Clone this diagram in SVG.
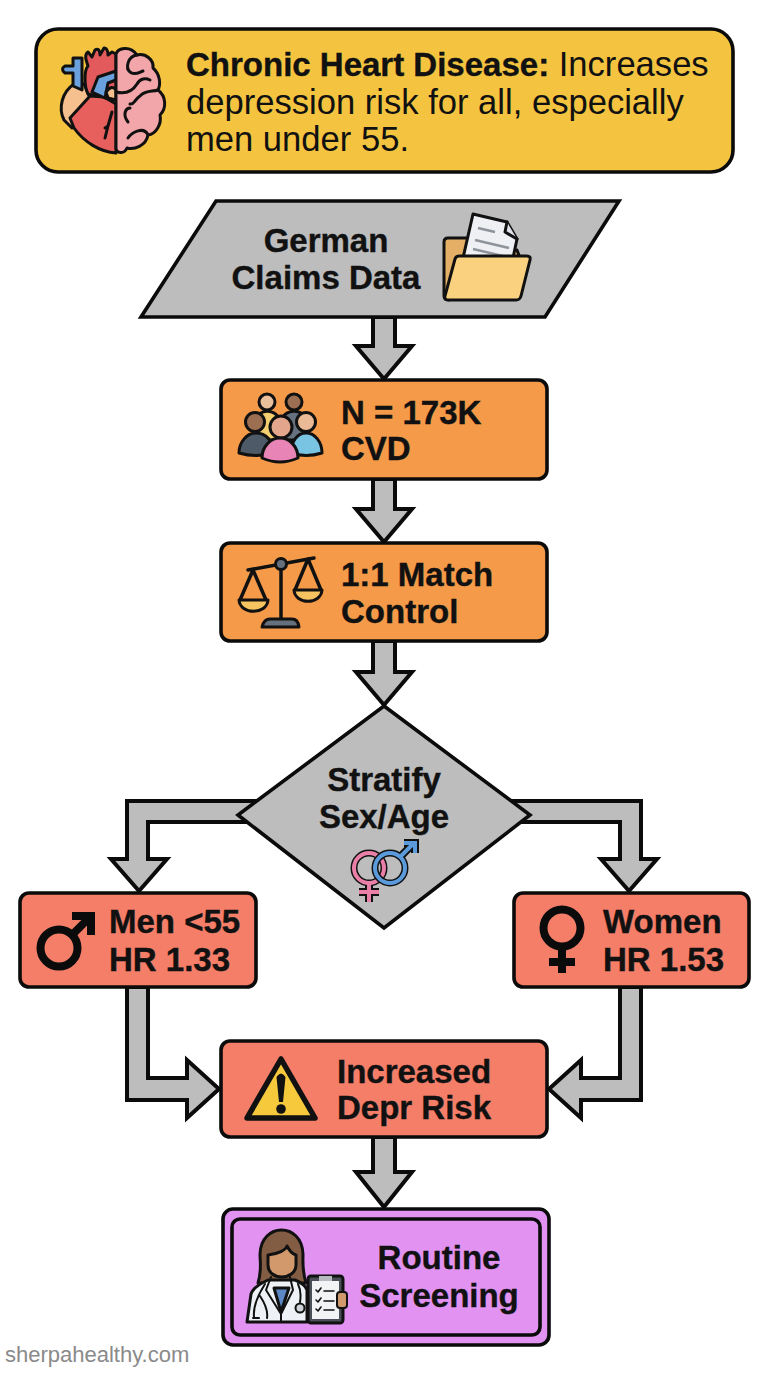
<svg xmlns="http://www.w3.org/2000/svg" width="768" height="1376" viewBox="0 0 768 1376">
<style>
.t{font-family:"Liberation Sans",Arial,sans-serif;font-size:33px;fill:#111;font-weight:700;stroke:#111;stroke-width:.4px}
.n{font-weight:400;font-size:34.6px;stroke:none}
.box{stroke:#0b0b0b;stroke-width:3.6}
.arr{fill:#bdbdbd;stroke:#0b0b0b;stroke-width:4;stroke-linejoin:miter}
.i{stroke:#111;stroke-width:3;stroke-linejoin:round;stroke-linecap:round}
.l{fill:none;stroke:#111;stroke-width:3;stroke-linejoin:round;stroke-linecap:round}
</style>
<rect width="768" height="1376" fill="#fff"/>
<g id="connectors">
<path class="arr" d="M373 317V346H356L384 379L412 346H395V317Z"/>
<path class="arr" d="M373 479V509H356L384 542L412 509H395V479Z"/>
<path class="arr" d="M373 641V672H356L384 705L412 672H395V641Z"/>
<path class="arr" d="M255 801H127V859H111L139 891L167 859H148V822H255Z"/>
<path class="arr" d="M513 801H641V859H657L629 891L601 859H620V822H513Z"/>
<path class="arr" d="M127 987V1100H187V1118L219 1089L187 1060V1078H148V987Z"/>
<path class="arr" d="M641 987V1100H581V1118L549 1089L581 1060V1078H620V987Z"/>
<path class="arr" d="M373 1137V1172H356L384 1207L412 1172H395V1137Z"/>
</g>
<g id="title">
<rect class="box" x="36" y="29" width="697" height="143" rx="22" fill="#f4c440"/>
<g id="heart-brain-icon">
<path class="i" d="M74 84C62 92 58 108 64 120L72 128L90 98L84 84Z" fill="#f6c08e"/>
<path class="i" d="M73 66H65Q60 69 65 73H73V86L82 90V58H73Z" fill="#6aa0dc"/>
<path class="i" d="M88 94C84 86 84 70 88 66C86 60 84 55 88 52L92 57L95 50C98 48 100 50 100 55L104 48C107 48 108 52 108 55L112 52L116 54V100L104 98Z" fill="#e25a5c"/>
<path class="i" d="M70 118L90 96L104 97L116 104V153C100 152 84 142 74 128Z" fill="#e8605e"/>
<path class="i" d="M92 92L98 77L116 71V80L108 83L105 98Z" fill="#6aa0dc"/>
<path class="i" d="M106 92Q112 84 116 90V100L108 98Z" fill="#f6c08e"/>
<path class="l" d="M105 128L108 126L112 112M108 126L105 138"/>
<path class="i" d="M116 54C118 48 130 45 137 55C146 53 154 60 153 68C160 74 161 84 158 90C166 96 167 108 160 115C162 124 156 134 148 135C146 146 134 150 127 148C124 155 116 153 116 148Z" fill="#f3a6aa"/>
<path class="l" d="M137 55C128 56 125 68 130 72C134 76 140 72 143 71M116 92C124 94 132 92 137 84C140 78 146 78 150 80M158 90C152 92 146 90 140 96C134 100 134 105 130 104M128 122C122 114 126 108 130 108M148 135C144 126 132 132 128 138"/>
</g>
<text class="t" x="186" y="76">Chronic Heart Disease:<tspan class="n"> Increases</tspan></text>
<text class="t n" x="186" y="114">depression risk for all, especially</text>
<text class="t n" x="186" y="151">men under 55.</text>
</g>
<g id="claims">
<path class="box" d="M216 201H619L545 317H141Z" fill="#bdbdbd"/>
<text class="t" x="326" y="252" text-anchor="middle">German</text>
<text class="t" x="326" y="289" text-anchor="middle">Claims Data</text>
<g id="folder-icon">
<path class="i" d="M448 238H470V290L449 300Q444 300 444 296V242Q444 238 448 238Z" fill="#e5b066"/>
<path class="i" d="M512 250L517 250L520 258H510Z" fill="#e5b066"/>
<path class="i" d="M473 214L507 222L517 239L513 258H463Z" fill="#eef0f4"/>
<path d="M478 228L495 232M475 240L509 248M473 249L507 257" stroke="#8f939a" stroke-width="2.5" fill="none"/>
<path class="i" d="M507 222L505 232L517 239" fill="#dfe2e8"/>
<path class="i" d="M459 256H527Q531 256 530 260L521 296Q520 300 516 300H449Q444 300 445 296L455 259Q456 256 459 256Z" fill="#fad27f"/>
</g>
</g>
<g id="cohort">
<rect class="box" x="221" y="380" width="326" height="99" rx="9" fill="#f59a48"/>
<g id="people-icon">
<circle class="i" cx="267" cy="402" r="8" fill="#eabf9c"/>
<path class="i" d="M256 418C262 408 274 410 279 418V440H256Z" fill="#f4cf6f"/>
<circle class="i" cx="294" cy="402" r="8" fill="#9c6f52"/>
<path class="i" d="M282 418C287 410 300 408 306 418V440H282Z" fill="#66727f"/>
<circle class="i" cx="255" cy="422" r="9.5" fill="#9c6f52"/>
<path class="i" d="M239 453C239 442 247 433 256 433C266 433 274 442 274 453Q256 458 239 453Z" fill="#4f5a68"/>
<circle class="i" cx="306" cy="422" r="9.5" fill="#eab995"/>
<path class="i" d="M291 453C291 442 297 433 306 433C315 433 322 442 322 453Q306 458 291 453Z" fill="#79c3e3"/>
<circle class="i" cx="281" cy="427" r="11" fill="#e3a58b"/>
<path class="i" d="M262 458C262 447 270 438 280 438C290 438 298 447 298 458Q280 466 262 458Z" fill="#e884b6"/>
</g>
<text class="t" x="341" y="424">N = 173K</text>
<text class="t" x="341" y="460">CVD</text>
</g>
<g id="match">
<rect class="box" x="221" y="543" width="326" height="98" rx="9" fill="#f59a48"/>
<g id="scales-icon">
<path class="l" d="M248 570L314 558M281 566V620M253 570L240 600M253 570L266 600M308 559L295 590M308 559L321 590" style="stroke-width:3.5"/>
<path class="i" d="M239 600H268C267 615 240 615 239 600Z" fill="#f6c361"/>
<path class="i" d="M294 590H322C321 605 295 605 294 590Z" fill="#f6c361"/>
<circle class="i" cx="281" cy="564" r="5.5" fill="#66707c"/>
<path class="i" d="M262 627Q264 619 270 619H292Q298 619 299 627Z" fill="#66707c"/>
</g>
<text class="t" x="341" y="586">1:1 Match</text>
<text class="t" x="341" y="623">Control</text>
</g>
<g id="stratify">
<path class="box" d="M384 706L530 815L384 928L238 815Z" fill="#bdbdbd"/>
<text class="t" x="384" y="791" text-anchor="middle">Stratify</text>
<text class="t" x="384" y="828" text-anchor="middle">Sex/Age</text>
<g id="sex-icon" fill="none">
<circle cx="369" cy="868" r="15" stroke="#111" stroke-width="7"/>
<path d="M369 883V902M359 892H379" stroke="#111" stroke-width="8"/>
<circle cx="369" cy="868" r="15" stroke="#ea7fa8" stroke-width="4"/>
<path d="M369 883V902M359 892H379" stroke="#ea7fa8" stroke-width="4"/>
<circle cx="390" cy="868" r="15" stroke="#111" stroke-width="7"/>
<path d="M400 857L414 843M404 843H415V853" stroke="#111" stroke-width="8"/>
<circle cx="390" cy="868" r="15" stroke="#5b9bdc" stroke-width="4"/>
<path d="M400 857L414 843M404 843H415V853" stroke="#5b9bdc" stroke-width="4"/>
</g>
</g>
<g id="men">
<rect class="box" x="20" y="893" width="236" height="94" rx="9" fill="#f47e68"/>
<g id="male-icon" fill="none" stroke="#0b0b0b" stroke-width="8">
<circle cx="59" cy="948" r="18.5"/>
<path d="M72 935L91 916M72 916H91V935"/>
</g>
<text class="t" x="109" y="933">Men &lt;55</text>
<text class="t" x="109" y="971">HR 1.33</text>
</g>
<g id="women">
<rect class="box" x="514" y="893" width="235" height="94" rx="9" fill="#f47e68"/>
<g id="female-icon" fill="none" stroke="#0b0b0b" stroke-width="8">
<circle cx="562" cy="928" r="18.5"/>
<path d="M562 946V973M549 962H575"/>
</g>
<text class="t" x="603" y="933">Women</text>
<text class="t" x="603" y="971">HR 1.53</text>
</g>
<g id="risk">
<rect class="box" x="221" y="1041" width="326" height="96" rx="9" fill="#f47e68"/>
<g id="warning-icon">
<path d="M281 1059L315 1118H247Z" fill="#f6c93d" stroke="#111" stroke-width="5.5" stroke-linejoin="round"/>
<path d="M276.500 1077Q281 1070 285.500 1077L283 1102H279Z" fill="#111"/>
<circle cx="281" cy="1109" r="4.800" fill="#111"/>
</g>
<text class="t" x="337" y="1083">Increased</text>
<text class="t" x="337" y="1119">Depr Risk</text>
</g>
<g id="screening">
<rect class="box" x="223" y="1209" width="326" height="136" rx="10" fill="#e293f2"/>
<rect class="box" x="232" y="1219" width="308" height="116" rx="8" fill="#e293f2"/>
<g id="doctor-icon">
<path class="i" d="M258 1283C262 1270 260 1262 260 1254C261 1222 302 1222 303 1254C303 1262 302 1270 306 1283Z" fill="#835c44"/>
<path class="i" d="M247 1322L251 1294Q253 1287 268 1280H295Q305 1284 307 1290V1322Z" fill="#eef1f5"/>
<path class="i" d="M274 1288L281 1312L289 1288Z" fill="#5d86c4"/>
<path class="i" d="M268 1255C278 1254 286 1250 287 1246C289 1250 292 1254 296 1255V1265C296 1273 288 1277 282 1277C275 1277 268 1273 268 1265Z" fill="#d29a6c"/>
<path class="l" d="M281 1312V1322M271 1277L266 1290L281 1314L293 1290L290 1277M265 1284C258 1295 253 1307 254 1317M260 1296C266 1305 268 1312 267 1318M253 1318H259M298 1284C301 1290 301 1296 300 1302" style="stroke-width:2"/>
<circle class="i" cx="300" cy="1308" r="4.500" fill="#cfd3d8" style="stroke-width:2"/>
<rect class="i" x="308" y="1276" width="35" height="47" rx="3" fill="#4a4f58"/>
<rect x="312" y="1281" width="27" height="38" fill="#f2f3f5"/>
<rect x="319" y="1276" width="13" height="5" fill="#b5bac0"/>
<path class="l" d="M316 1290L318 1292L321 1288M324 1291H334M316 1300L318 1302L321 1298M324 1301H334M316 1309L318 1311L321 1307M324 1310H334" style="stroke-width:1.6"/>
<rect class="i" x="337" y="1292" width="10" height="16" rx="3" fill="#d29a6c" style="stroke-width:2"/>
</g>
<text class="t" x="439" y="1269" text-anchor="middle">Routine</text>
<text class="t" x="439" y="1307" text-anchor="middle">Screening</text>
</g>
<text x="5" y="1362" font-family="Liberation Sans, Arial, sans-serif" font-size="22" fill="#8a8a8a">sherpahealthy.com</text>
</svg>
